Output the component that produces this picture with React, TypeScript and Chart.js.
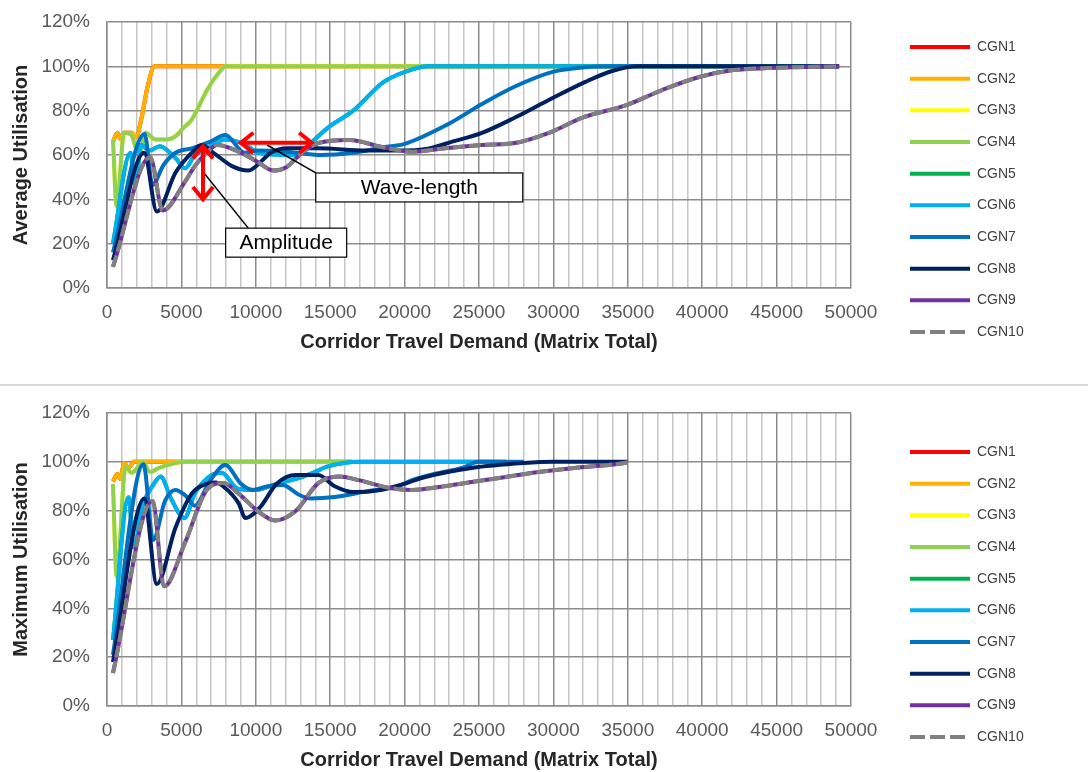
import React, { useEffect, useRef } from 'react';
import { Chart, registerables } from 'chart.js';

Chart.register(...registerables);

const FONT = "'Liberation Sans', Arial, sans-serif";
Chart.defaults.font.family = FONT;

// ---------- series meta ----------
const seriesNames = ['CGN1', 'CGN2', 'CGN3', 'CGN4', 'CGN5', 'CGN6', 'CGN7', 'CGN8', 'CGN9', 'CGN10'];
const seriesColors = ['#FF0000', '#FFB000', '#FFFF00', '#92D050', '#00B050', '#00B0F0', '#0070C0', '#002060', '#7030A0', '#808080'];

// ---------- axis ticks ----------
const xMin = 0;
const xMax = 50000;
const xMinorStep = 1000;
const xMajorStep = 5000;
const yMin = 0;
const yMax = 120;
const yStep = 20;

// ---------- Average Utilisation (top) ----------
// CGN1 / CGN2 (identical, orange drawn over red)
const avg12X = [400, 700, 950, 1150, 1650, 1950, 2300, 2700, 3200, 49200];
const avg12Y = [66, 70, 67, 70, 70, 68, 76, 90, 100, 100];
// CGN3 / CGN4 (identical, green drawn over yellow)
const avg34X = [400, 650, 1150, 1650, 1950, 2250, 2600, 3250, 4000, 4700, 5100, 5700, 6700, 7500, 8000, 49200];
const avg34Y = [67, 37, 70, 69, 63, 62, 70, 67, 67, 69, 72, 76, 89, 97, 100, 100];
// CGN5 / CGN6 (identical, light blue drawn over green)
const avg56X = [400, 1580, 1900, 2300, 2850, 3550, 4600, 5250, 5900, 6700, 7950, 9350, 10150, 12500, 13150, 13800, 14900, 16550, 18600, 20700, 21600, 49200];
const avg56Y = [20, 61, 46, 64.5, 62, 64, 58.6, 54, 60, 63, 67, 64.5, 61, 60, 61.5, 66, 72.6, 80, 93, 99, 100, 100];
// CGN7
const avg7X = [400, 2530, 3050, 3800, 4600, 5700, 6950, 7950, 9250, 10150, 12000, 14400, 16500, 18600, 20000, 22950, 25200, 27450, 29950, 32000, 34400, 49200];
const avg7Y = [16, 69.5, 46.5, 55.5, 61, 63, 66, 69, 61, 62, 61.5, 60, 61, 63.5, 65, 74, 83, 91, 97.5, 99.5, 100, 100];
// CGN8
const avg8X = [400, 2500, 3350, 4600, 5700, 6350, 7150, 8400, 9500, 10500, 11000, 12100, 14200, 17400, 19450, 21650, 23200, 25200, 27450, 29750, 32150, 34000, 35650, 49200];
const avg8Y = [12.5, 61, 34.5, 52, 61, 64.5, 61, 55, 53, 58, 61, 63, 63, 62, 62, 63, 66, 70, 77, 85, 93, 98, 100, 100];
// CGN9 / CGN10 (identical, grey dashed drawn over purple)
const avg910X = [400, 2900, 3750, 5250, 5900, 6700, 7400, 8850, 10100, 11200, 12050, 13100, 14200, 16300, 18400, 20500, 22700, 25200, 27400, 29700, 32000, 34900, 37300, 39800, 42100, 44400, 49200];
const avg910Y = [9.5, 59, 35, 48, 55, 61, 64.5, 61.5, 57, 53, 54.5, 61, 65.4, 66.8, 63.7, 61.5, 63, 64.5, 65.4, 70, 77, 82.5, 89.3, 95.2, 98.3, 99.2, 100];

// ---------- Maximum Utilisation (bottom) ----------
const max12X = [400, 700, 900, 1150, 1450, 1800, 16500];
const max12Y = [92, 95, 93, 99.5, 97.5, 100, 100];
const max34X = [400, 650, 1250, 1650, 2100, 2400, 2900, 3500, 4600, 5500, 16500];
const max34Y = [91, 53, 98, 95.5, 98, 100, 95.8, 97.5, 99.5, 100, 100];
const max56X = [400, 1450, 1800, 2400, 3150, 3600, 4300, 5200, 5900, 6900, 7700, 8800, 10000, 11400, 12700, 13800, 14800, 15900, 17000, 26800];
const max56Y = [27, 85.5, 65, 82, 91, 94, 85, 77, 87, 94, 95.5, 89, 88.5, 91, 93, 95.4, 98, 99.5, 100, 100];
const max7X = [400, 2450, 3100, 3900, 4600, 5300, 5900, 6900, 7950, 9000, 9800, 10800, 11800, 12900, 13700, 15300, 17500, 19500, 20500, 22000, 23850, 25000, 28000];
const max7Y = [21, 99, 68, 84, 88.5, 86, 82, 92, 98.7, 91, 88.5, 90, 90.5, 86.5, 85, 85.6, 88, 90, 92.5, 95, 97.5, 100, 100];
const max8X = [400, 2500, 3350, 4600, 5700, 6700, 7300, 7800, 8850, 9300, 10300, 11400, 12700, 14200, 15300, 16600, 18400, 20000, 21200, 24500, 28000, 30000, 35000];
const max8Y = [18, 85, 50, 73, 87, 91, 91.5, 90, 83, 77, 81.5, 91, 94.6, 94.6, 90, 87.6, 88.5, 91, 93.5, 97.5, 99.5, 100, 100];
const max910X = [400, 3050, 3850, 5250, 6700, 7800, 8850, 10100, 11300, 12700, 14200, 15600, 16900, 19000, 20500, 22300, 24500, 26800, 29000, 31400, 33700, 35000];
const max910Y = [13.5, 84, 49, 67, 88.5, 91.3, 87, 80, 76, 80, 91.3, 94, 92.5, 89.3, 88.5, 89.7, 91.7, 93.8, 95.8, 97.5, 98.7, 99.7];

const avgSeries = [
  [avg12X, avg12Y], [avg12X, avg12Y], [avg34X, avg34Y], [avg34X, avg34Y], [avg56X, avg56Y],
  [avg56X, avg56Y], [avg7X, avg7Y], [avg8X, avg8Y], [avg910X, avg910Y], [avg910X, avg910Y],
];
const maxSeries = [
  [max12X, max12Y], [max12X, max12Y], [max34X, max34Y], [max34X, max34Y], [max56X, max56Y],
  [max56X, max56Y], [max7X, max7Y], [max8X, max8Y], [max910X, max910Y], [max910X, max910Y],
];

// ---------- annotations (data units) ----------
const amplitudeArrow = { x: 6450, yFrom: 64, yTo: 40 };
const wavelengthArrow = { y: 65.5, xFrom: 9000, xTo: 13750 };
const wavelengthNote = { text: 'Wave-length', x: 14030, y: 51.9, leaderFromX: 14030, pointX: 10760, pointY: 64.5 };
const amplitudeNote = { text: 'Amplitude', x: 7975, y: 27, leaderFromX: 9494, pointX: 6520, pointY: 51.9 };

const MAJOR_GRID = '#8c8c8c';
const MINOR_GRID = '#c6c6c6';

function drawDoubleArrow(ctx: CanvasRenderingContext2D, x1: number, y1: number, x2: number, y2: number) {
  const ang = Math.atan2(y2 - y1, x2 - x1);
  const len = 16;
  const spread = 0.68;
  ctx.save();
  ctx.strokeStyle = '#FF0000';
  ctx.lineWidth = 4;
  ctx.lineJoin = 'miter';
  ctx.beginPath();
  ctx.moveTo(x1, y1);
  ctx.lineTo(x2, y2);
  ctx.stroke();
  const head = (tx: number, ty: number, a: number) => {
    ctx.beginPath();
    ctx.moveTo(tx + len * Math.cos(a + spread), ty + len * Math.sin(a + spread));
    ctx.lineTo(tx, ty);
    ctx.lineTo(tx + len * Math.cos(a - spread), ty + len * Math.sin(a - spread));
    ctx.stroke();
  };
  head(x1, y1, ang);
  head(x2, y2, ang + Math.PI);
  ctx.restore();
}

function drawNote(ctx: CanvasRenderingContext2D, note: any, w: number, h: number, xs: any, ys: any) {
  const left = xs.getPixelForValue(note.x);
  const top = ys.getPixelForValue(note.y);
  const fromX = xs.getPixelForValue(note.leaderFromX);
  ctx.save();
  ctx.strokeStyle = '#000000';
  ctx.lineWidth = 1.5;
  ctx.beginPath();
  ctx.moveTo(fromX, top);
  ctx.lineTo(xs.getPixelForValue(note.pointX), ys.getPixelForValue(note.pointY));
  ctx.stroke();
  ctx.fillStyle = '#ffffff';
  ctx.fillRect(left, top, w, h);
  ctx.lineWidth = 1.2;
  ctx.strokeRect(left, top, w, h);
  ctx.fillStyle = '#000000';
  ctx.font = `21px ${FONT}`;
  ctx.textAlign = 'center';
  ctx.textBaseline = 'middle';
  ctx.fillText(note.text, left + w / 2, top + h / 2 + 1);
  ctx.restore();
}

const notesPlugin = {
  id: 'waveNotes',
  afterDatasetsDraw(chart: any) {
    const { ctx } = chart;
    const xs = chart.scales.x;
    const ys = chart.scales.y;
    drawNote(ctx, wavelengthNote, 207, 29, xs, ys);
    drawNote(ctx, amplitudeNote, 121, 29, xs, ys);
    drawDoubleArrow(
      ctx,
      xs.getPixelForValue(amplitudeArrow.x), ys.getPixelForValue(amplitudeArrow.yFrom),
      xs.getPixelForValue(amplitudeArrow.x), ys.getPixelForValue(amplitudeArrow.yTo)
    );
    drawDoubleArrow(
      ctx,
      xs.getPixelForValue(wavelengthArrow.xFrom), ys.getPixelForValue(wavelengthArrow.y),
      xs.getPixelForValue(wavelengthArrow.xTo), ys.getPixelForValue(wavelengthArrow.y)
    );
  },
};

interface LayoutSpec {
  titleBoxPad: number;
  padBottom: number;
  xAxisHeight: number;
  xTitlePad: number;
}

const LEGEND_FONT = 14;
const LEGEND_PAD = 17.67;

function buildConfig(series: any[], yTitle: string, lay: LayoutSpec, withNotes: boolean): any {
  const tickFont = { size: 19, family: FONT };
  const titleFont = { size: 20, weight: 'bold' as const, family: FONT };
  return {
    type: 'line',
    data: {
      datasets: series.map(([xs, ys]: [number[], number[]], i: number) => ({
        label: seriesNames[i],
        data: xs.map((x, j) => ({ x, y: ys[j] })),
        borderColor: seriesColors[i],
        backgroundColor: seriesColors[i],
        borderWidth: 4,
        borderDash: i === 9 ? [12, 4] : [],
        pointRadius: 0,
        pointHoverRadius: 0,
        cubicInterpolationMode: 'monotone',
        fill: false,
        order: 10 - i,
      })),
    },
    options: {
      responsive: false,
      animation: false,
      events: [],
      layout: { padding: { top: 0, left: 0, right: 54.32, bottom: lay.padBottom } },
      scales: {
        x: {
          type: 'linear',
          min: xMin,
          max: xMax,
          ticks: {
            stepSize: xMinorStep,
            autoSkip: false,
            maxRotation: 0,
            minRotation: 0,
            padding: 13,
            color: '#595959',
            font: tickFont,
            callback: (v: number) => (v % xMajorStep === 0 ? String(v) : ''),
          },
          grid: {
            drawTicks: false,
            lineWidth: 1.5,
            color: (c: any) => (c.tick && c.tick.value % xMajorStep === 0 ? MAJOR_GRID : MINOR_GRID),
          },
          border: { color: MAJOR_GRID, width: 1.5 },
          title: {
            display: true,
            text: 'Corridor Travel Demand (Matrix Total)',
            color: '#262626',
            font: titleFont,
            padding: { top: 0, bottom: lay.xTitlePad },
          },
          afterFit: (s: any) => { s.height = lay.xAxisHeight; },
        },
        y: {
          type: 'linear',
          min: yMin,
          max: yMax,
          ticks: {
            stepSize: yStep,
            padding: 0,
            color: '#595959',
            font: tickFont,
            callback: (v: number) => `${v}%`,
          },
          grid: {
            drawTicks: true,
            tickLength: 17,
            tickColor: 'rgba(0,0,0,0)',
            lineWidth: 1.5,
            color: MAJOR_GRID,
          },
          border: { color: MAJOR_GRID, width: 1.5 },
          title: {
            display: true,
            text: yTitle,
            color: '#262626',
            font: titleFont,
            padding: { top: 9, bottom: 0 },
          },
          afterFit: (s: any) => { s.width = 107; },
        },
        yGap: {
          type: 'linear',
          position: 'right',
          display: true,
          grid: { display: false, drawTicks: false },
          ticks: { display: false, padding: 0 },
          border: { display: false },
          afterFit: (s: any) => { s.width = 41.33; },
        },
      },
      plugins: {
        title: { display: true, text: ' ', font: { size: 10 }, padding: { top: lay.titleBoxPad, bottom: 0 } },
        tooltip: { enabled: false },
        legend: {
          position: 'right',
          align: 'center',
          labels: {
            usePointStyle: true,
            pointStyle: 'line',
            pointStyleWidth: 60,
            boxWidth: 60,
            padding: LEGEND_PAD,
            color: '#404040',
            font: { size: LEGEND_FONT, family: FONT },
            sort: (a: any, b: any) => a.datasetIndex - b.datasetIndex,
            generateLabels: (chart: any) =>
              (Chart.defaults.plugins.legend.labels.generateLabels as any)(chart).map((item: any) => ({
                ...item,
                strokeStyle: seriesColors[item.datasetIndex],
                lineWidth: 4,
                lineDash: item.datasetIndex === 9 ? [15, 5] : [],
              })),
          },
        },
      },
    },
    plugins: withNotes ? [notesPlugin] : [],
  };
}

function ChartCanvas(props: { top: number; height: number; makeConfig: () => any }) {
  const ref = useRef<HTMLCanvasElement>(null);
  useEffect(() => {
    const chart = new Chart(ref.current as HTMLCanvasElement, props.makeConfig());
    return () => chart.destroy();
  }, []);
  return (
    <canvas
      ref={ref}
      width={1088}
      height={props.height}
      style={{ position: 'absolute', left: 0, top: props.top, width: 1088, height: props.height }}
    />
  );
}

export default function App() {
  return (
    <div style={{ position: 'fixed', left: 0, top: 0, width: 1088, height: 772, overflow: 'hidden', background: '#ffffff' }}>
      <ChartCanvas
        top={0}
        height={385}
        makeConfig={() =>
          buildConfig(avgSeries, 'Average Utilisation', { titleBoxPad: 10, padBottom: 6, xAxisHeight: 91, xTitlePad: 25 }, true)
        }
      />
      <ChartCanvas
        top={387}
        height={415}
        makeConfig={() =>
          buildConfig(maxSeries, 'Maximum Utilisation', { titleBoxPad: 14, padBottom: 0, xAxisHeight: 96, xTitlePad: 30 }, false)
        }
      />
      <div style={{ position: 'absolute', left: 0, top: 384, width: 1088, height: 2, background: '#d9d9d9' }} />
    </div>
  );
}
